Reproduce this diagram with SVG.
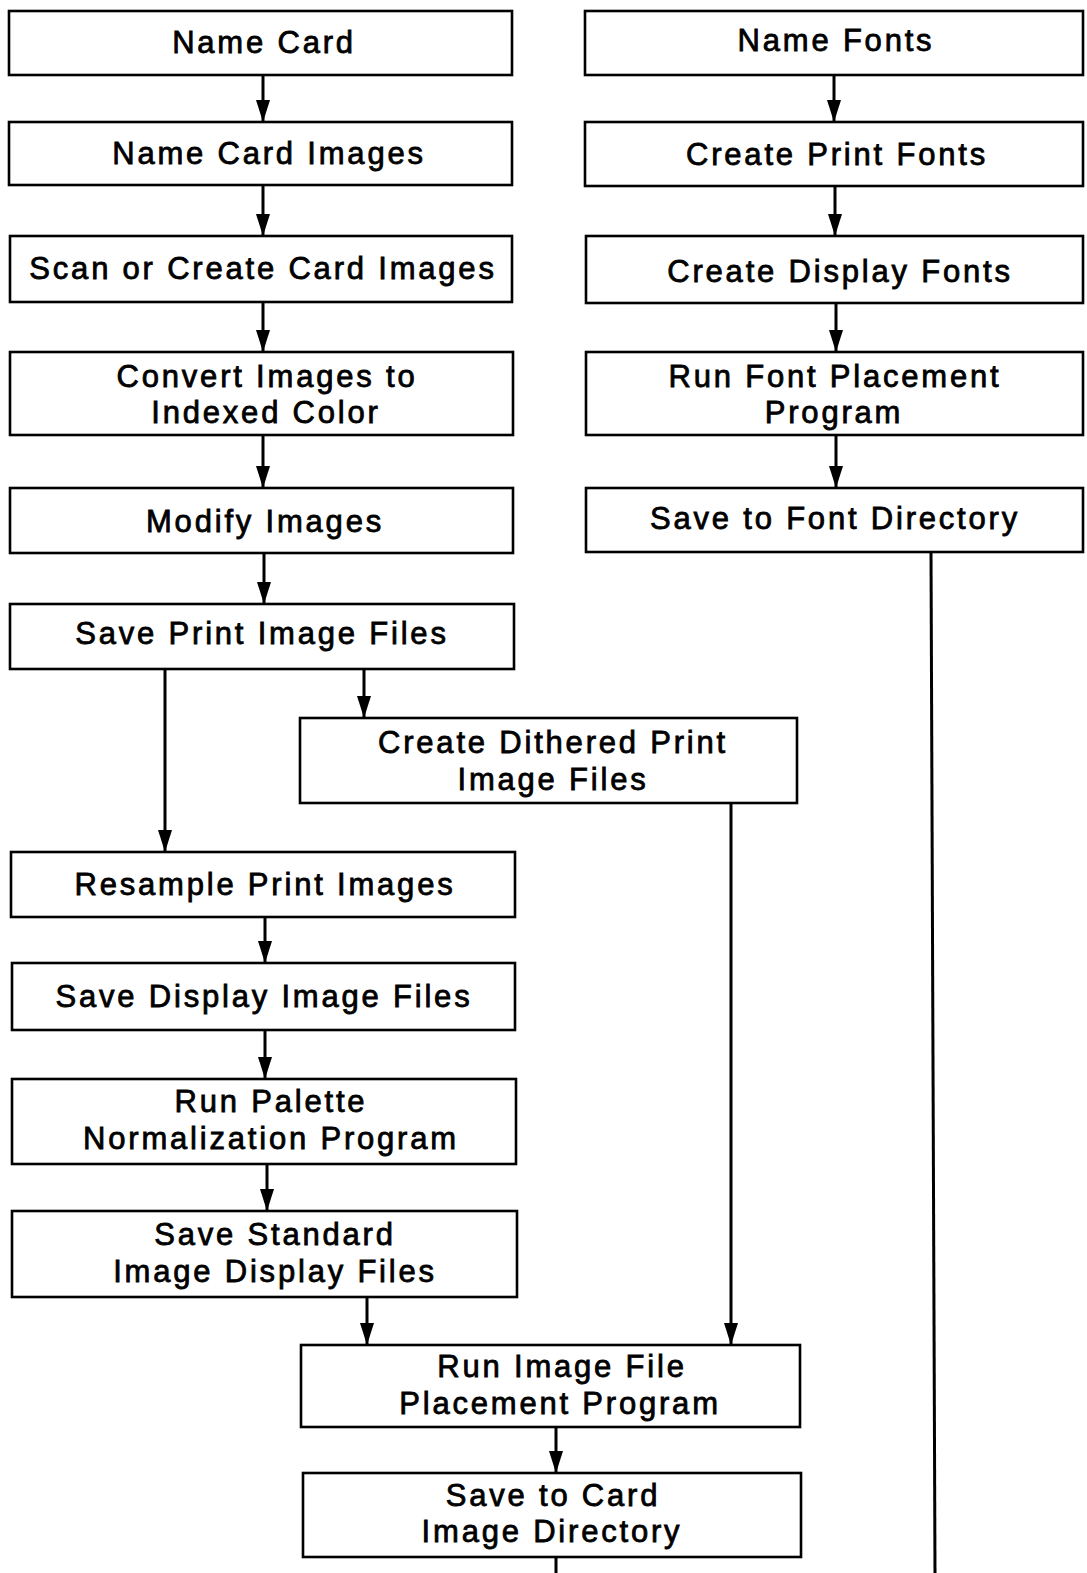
<svg xmlns="http://www.w3.org/2000/svg" width="1087" height="1573" viewBox="0 0 1087 1573">
<style>
.box{fill:#fff;stroke:#000;stroke-width:2.6}
.t{font-family:"Liberation Sans",Arial,sans-serif;font-size:31px;letter-spacing:2.8px;fill:#000;stroke:#000;stroke-width:0.8;text-anchor:middle}
.c{fill:none;stroke:#000;stroke-width:3}
</style>
<defs>
<marker id="ah" viewBox="0 0 22 14" refX="22" refY="7" markerUnits="userSpaceOnUse" markerWidth="22" markerHeight="14" orient="auto">
<path d="M0,0 L22,7 L0,14 Z" fill="#000"/>
</marker>
</defs>
<rect width="1087" height="1573" fill="#fff"/>
<g id="connectors">
<path class="c" d="M263,75 V122" marker-end="url(#ah)"/>
<path class="c" d="M263,185 V236" marker-end="url(#ah)"/>
<path class="c" d="M263,302 V352" marker-end="url(#ah)"/>
<path class="c" d="M263,435 V488" marker-end="url(#ah)"/>
<path class="c" d="M264,553 V604" marker-end="url(#ah)"/>
<path class="c" d="M165,669 V852" marker-end="url(#ah)"/>
<path class="c" d="M364,669 V718" marker-end="url(#ah)"/>
<path class="c" d="M265,917 V963" marker-end="url(#ah)"/>
<path class="c" d="M265,1030 V1079" marker-end="url(#ah)"/>
<path class="c" d="M267,1164 V1211" marker-end="url(#ah)"/>
<path class="c" d="M367,1297 V1345" marker-end="url(#ah)"/>
<path class="c" d="M731,803 V1345" marker-end="url(#ah)"/>
<path class="c" d="M556,1427 V1473" marker-end="url(#ah)"/>
<path class="c" d="M556,1557 V1573"/>
<path class="c" d="M834,75 V122" marker-end="url(#ah)"/>
<path class="c" d="M835,186 V236" marker-end="url(#ah)"/>
<path class="c" d="M836,303 V352" marker-end="url(#ah)"/>
<path class="c" d="M836,435 V488" marker-end="url(#ah)"/>
<path class="c" d="M931,552 L935,1573"/>
</g>
<g id="n1"><rect class="box" x="9" y="11" width="503" height="64"/><text class="t" x="264" y="53">Name Card</text></g>
<g id="n2"><rect class="box" x="9" y="122" width="503" height="63"/><text class="t" x="269" y="164">Name Card Images</text></g>
<g id="n3"><rect class="box" x="10" y="236" width="502" height="66"/><text class="t" x="263" y="279">Scan or Create Card Images</text></g>
<g id="n4"><rect class="box" x="10" y="352" width="503" height="83"/><text class="t" x="267" y="387">Convert Images to</text><text class="t" x="266" y="423">Indexed Color</text></g>
<g id="n5"><rect class="box" x="10" y="488" width="503" height="65"/><text class="t" x="265" y="532">Modify Images</text></g>
<g id="n6"><rect class="box" x="10" y="604" width="504" height="65"/><text class="t" x="262" y="644">Save Print Image Files</text></g>
<g id="n7"><rect class="box" x="300" y="718" width="497" height="85"/><text class="t" x="553" y="753">Create Dithered Print</text><text class="t" x="553" y="790">Image Files</text></g>
<g id="n8"><rect class="box" x="11" y="852" width="504" height="65"/><text class="t" x="265" y="895">Resample Print Images</text></g>
<g id="n9"><rect class="box" x="12" y="963" width="503" height="67"/><text class="t" x="264" y="1007">Save Display Image Files</text></g>
<g id="n10"><rect class="box" x="12" y="1079" width="504" height="85"/><text class="t" x="271" y="1112">Run Palette</text><text class="t" x="271" y="1149">Normalization Program</text></g>
<g id="n11"><rect class="box" x="12" y="1211" width="505" height="86"/><text class="t" x="275" y="1245">Save Standard</text><text class="t" x="275" y="1282">Image Display Files</text></g>
<g id="n12"><rect class="box" x="301" y="1345" width="499" height="82"/><text class="t" x="562" y="1377">Run Image File</text><text class="t" x="560" y="1414">Placement Program</text></g>
<g id="n13"><rect class="box" x="303" y="1473" width="498" height="84"/><text class="t" x="553" y="1506">Save to Card</text><text class="t" x="552" y="1542">Image Directory</text></g>
<g id="r1"><rect class="box" x="585" y="11" width="498" height="64"/><text class="t" x="836" y="51">Name Fonts</text></g>
<g id="r2"><rect class="box" x="585" y="122" width="498" height="64"/><text class="t" x="837" y="165">Create Print Fonts</text></g>
<g id="r3"><rect class="box" x="586" y="236" width="497" height="67"/><text class="t" x="840" y="282">Create Display Fonts</text></g>
<g id="r4"><rect class="box" x="586" y="352" width="497" height="83"/><text class="t" x="835" y="387">Run Font Placement</text><text class="t" x="834" y="423">Program</text></g>
<g id="r5"><rect class="box" x="586" y="488" width="497" height="64"/><text class="t" x="835" y="529">Save to Font Directory</text></g>
</svg>
